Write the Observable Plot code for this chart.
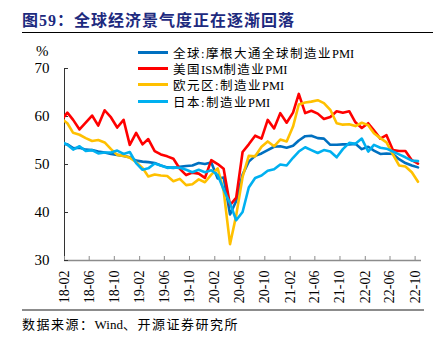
<!DOCTYPE html>
<html><head><meta charset="utf-8">
<script src="https://cdn.jsdelivr.net/npm/d3@7"></script>
<script src="https://cdn.jsdelivr.net/npm/@observablehq/plot@0.6"></script>
<style>
body{margin:0;width:444px;height:347px;position:relative;background:#fff;overflow:hidden;font-family:"Liberation Serif","Noto Sans CJK SC",serif;}
#chart{position:absolute;left:0;top:0}
#title{position:absolute;left:22px;top:7px;font-size:16px;font-weight:bold;color:#1d2a7e;letter-spacing:1px;white-space:nowrap}
#tline{position:absolute;left:22px;top:32px;width:411px;height:1px;background:#000}
#bline{position:absolute;left:22px;top:309px;width:402px;height:2px;background:#8c8c8c}
#src{position:absolute;left:22px;top:314px;font-size:13px;color:#000;white-space:nowrap}
#pct{position:absolute;left:36px;top:43px;font-size:15px;color:#000}
#legend{position:absolute;left:138px;top:44px;font-size:12.5px;color:#000}
.row{height:16.3px;display:flex;align-items:center;white-space:nowrap}
.cjk{letter-spacing:1.5px}
.sw{width:30px;height:3px;margin-right:5px}
</style>
</head><body>
<div id="chart"></div>
<div id="title">图59：全球经济景气度正在逐渐回落</div>
<div id="tline"></div>
<div id="pct">%</div>
<div id="legend"></div>
<div id="bline"></div>
<div id="src"></div>
<script>
const titleText = "图59：全球经济景气度正在逐渐回落";
const sourceText = "数据来源：Wind、开源证券研究所";
const startMonth = "2018-01";
const seriesNames = ["全球:摩根大通全球制造业PMI","美国ISM制造业PMI","欧元区:制造业PMI","日本:制造业PMI"];
const seriesColors = ["#0070c0","#ff0000","#ffc000","#00b0f0"];
const globalPMI = [54.4,54.2,53.4,53.5,53.1,53.0,52.7,52.5,52.2,52.0,51.8,51.5, 50.8,50.6,50.5,50.3,49.8,49.4,49.3,49.5,49.7,49.8,50.3,50.1, 50.4,47.1,47.3,39.6,42.4,47.9,50.6,51.8,52.3,53.0,53.7,53.8, 53.5,53.9,55.0,55.9,56.0,55.5,55.4,54.1,54.1,54.2,54.2,54.3, 53.2,53.7,52.9,52.2,52.3,52.2,51.1,50.3,49.8,49.4];
const usISM = [59.1,60.8,59.3,57.3,58.7,60.2,58.1,61.3,59.8,57.7,59.3,54.1, 56.6,54.2,55.3,52.8,52.1,51.7,51.2,49.1,47.8,48.3,48.1,47.2, 50.9,50.1,49.1,41.5,43.1,52.6,54.2,56.0,55.4,59.3,57.5,60.7, 58.7,60.8,64.7,60.7,61.2,60.6,59.5,59.9,61.1,60.8,61.1,58.8, 57.6,58.6,57.1,55.4,56.1,53.0,52.8,52.8,50.9,50.2];
const euroPMI = [59.6,58.6,56.6,56.2,55.5,54.9,55.1,54.6,53.2,52.0,51.8,51.4, 50.5,49.3,47.5,47.9,47.7,47.6,46.5,47.0,45.7,45.9,46.9,46.3, 47.9,49.2,44.5,33.4,39.4,47.4,51.8,51.7,53.7,54.8,53.8,55.2, 54.8,57.9,62.5,62.9,63.1,63.4,62.8,61.4,58.6,58.3,58.4,58.0, 58.7,58.2,56.5,55.5,54.6,52.1,49.8,49.6,48.4,46.4];
const japanPMI = [54.8,54.1,53.1,53.8,52.8,53.0,52.3,52.5,52.5,52.9,52.2,52.6, 50.3,48.9,49.2,50.2,49.8,49.3,49.4,49.3,48.9,48.4,48.9,48.4, 48.8,47.8,44.8,41.9,38.4,40.1,45.2,47.2,47.7,48.7,49.0,50.0, 49.8,51.4,52.7,53.6,53.0,52.4,53.0,52.7,51.5,53.2,54.5,54.3, 55.4,52.7,54.1,53.5,53.3,52.7,52.1,51.5,50.8,50.7];
const xTickLabels = ["18-02","18-06","18-10","19-02","19-06","19-10","20-02","20-06","20-10","21-02","21-06","21-10","22-02","22-06","22-10"];
const yTicks = [30,40,50,60,70];
const xDomainLabels = ["18-02","22-11"];

const parseYM = d3.utcParse("%y-%m");
const [sy, sm] = startMonth.split("-").map(Number);
const monthDate = i => new Date(Date.UTC(sy, sm - 1 + i, 15));
const allSeries = [globalPMI, usISM, euroPMI, japanPMI];
const rows = [];
allSeries.forEach((vals, s) => vals.forEach((v, i) => rows.push({date: monthDate(i), value: v, series: seriesNames[s]})));
const xTicks = xTickLabels.map(parseYM);
const xDomain = xDomainLabels.map(parseYM);

const chart = Plot.plot({
  width: 444, height: 347,
  marginLeft: 64, marginRight: 23, marginTop: 68, marginBottom: 87,
  style: {fontFamily: '"Liberation Serif","Noto Sans CJK SC",serif', fontSize: "15px", color: "#000", background: "transparent"},
  x: {type: "utc", domain: xDomain},
  y: {domain: [yTicks[0], yTicks[yTicks.length-1]]},
  color: {domain: seriesNames, range: seriesColors},
  marks: [
    Plot.ruleY([yTicks[0]], {stroke: "#8c8c8c", strokeWidth: 1.5}),
    Plot.ruleX([xDomain[0]], {stroke: "#333", strokeWidth: 1}),
    Plot.axisY({ticks: yTicks, tickSize: -4, tickPadding: 19, label: null, fontSize: 15, stroke: "#333"}),
    Plot.axisX({ticks: xTicks, tickSize: -4, tickPadding: 14, tickRotate: -90, tickFormat: d3.utcFormat("%y-%m"), label: null, fontSize: 14, stroke: "#8c8c8c"}),
    Plot.line(rows, {x: "date", y: "value", z: "series", stroke: "series", strokeWidth: 2.6, clip: true})
  ]
});
document.getElementById("chart").appendChild(chart);

// wrap CJK runs so only they get extra spacing
function fillText(el, text) {
  text.split(/([\u3000-\u9fff\uff00-\uffef:]+)/).forEach(part => {
    if (!part) return;
    const s = document.createElement("span");
    if (/[\u3000-\u9fff\uff00-\uffef:]/.test(part)) s.className = "cjk";
    s.textContent = part;
    el.appendChild(s);
  });
}
fillText(document.getElementById("src"), sourceText);
document.getElementById("title").textContent = titleText;

const legend = document.getElementById("legend");
seriesNames.forEach((n, i) => {
  const r = document.createElement("div"); r.className = "row";
  const sw = document.createElement("span"); sw.className = "sw"; sw.style.background = seriesColors[i];
  const t = document.createElement("span"); fillText(t, n);
  r.appendChild(sw); r.appendChild(t); legend.appendChild(r);
});
</script>
</body></html>
